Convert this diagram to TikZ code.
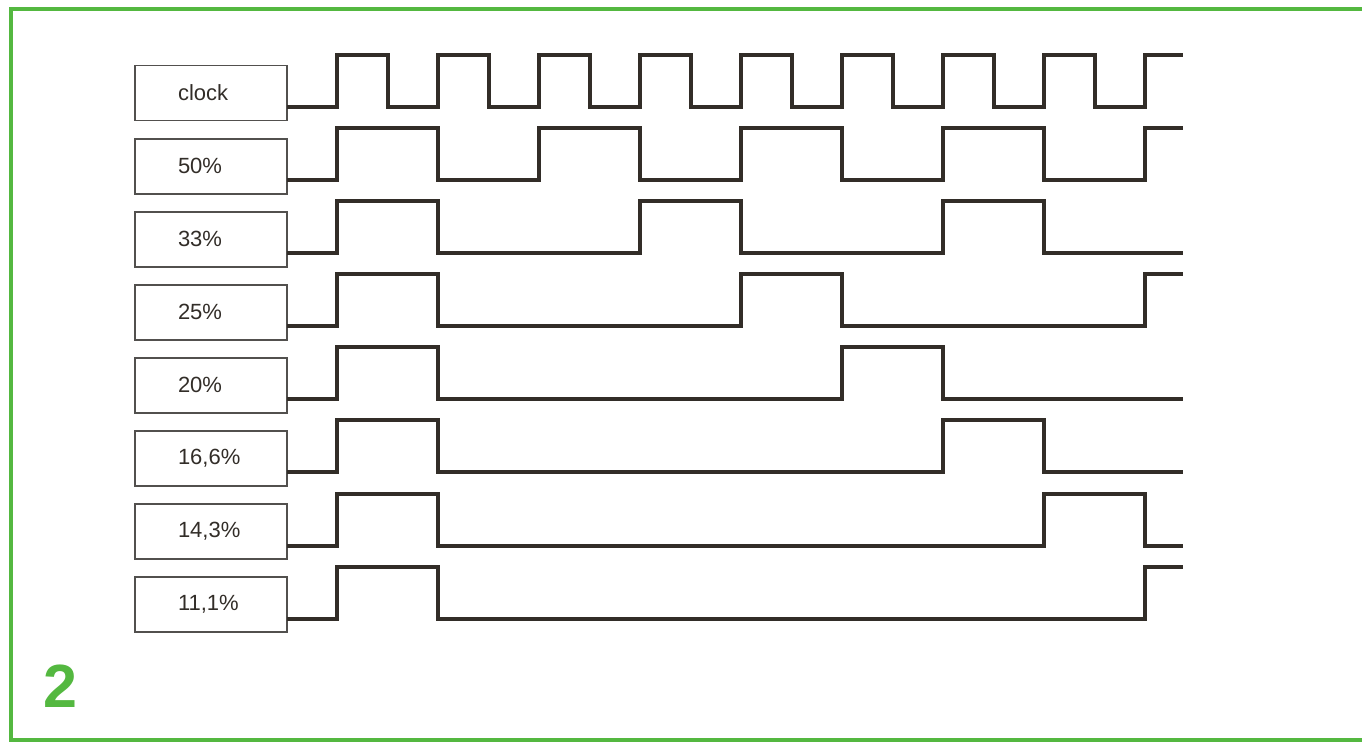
\documentclass[tikz,border=0pt]{standalone}
\usepackage{fontspec}
\setmainfont{Liberation Sans}
\usepackage{tikz}
\usetikzlibrary{positioning}
\definecolor{framegreen}{RGB}{84,184,64}
\definecolor{ink}{RGB}{50,45,40}
\definecolor{boxgray}{RGB}{82,80,78}
\tikzset{
    sigbox/.style={
           rectangle,
           draw=boxgray, line width=1.8pt,
           minimum width=152pt,
           minimum height=55pt,
           outer sep=0pt,
           inner xsep=43pt,
           text width=66pt,
           align=left,
           text=ink,
           font=\fontsize{22}{24}\selectfont,
           },
    wave/.style={
           draw=ink,
           line width=4.5pt,
           line join=miter,}
}

\begin{document}
\begin{tikzpicture}[x=1pt,y=-1pt]
\useasboundingbox (0,0) rectangle (1362,742);
% FRAME
\draw[framegreen, line width=4pt] (11,9) rectangle (1380,740);
% Position of the signal boxes
\node[sigbox] (CLOCK) at (211,93) {clock};
\node[sigbox, below = 18.1pt of CLOCK] (HALF) {50\%};
\node[sigbox, below = 18.1pt of HALF] (THIRD) {33\%};
\node[sigbox, below = 18.1pt of THIRD] (QUARTER) {25\%};
\node[sigbox, below = 18.1pt of QUARTER] (FIFTH) {20\%};
\node[sigbox, below = 18.1pt of FIFTH] (SIXTH) {16,6\%};
\node[sigbox, below = 18.1pt of SIXTH] (SEVENTH) {14,3\%};
\node[sigbox, below = 18.1pt of SEVENTH] (NINTH) {11,1\%};
% Figure number
\node[text=framegreen, font=\fontsize{61}{61}\selectfont\bfseries] (NUM) at (60,686) {2};
% Draw the waveforms
\draw[wave] (CLOCK.east |- 0,107) -| (337,55) -| (388,107) -| (438,55) -| (489,107)
  -| (539,55) -| (590,107) -| (640,55) -| (691,107) -| (741,55) -| (792,107)
  -| (842,55) -| (893,107) -| (943,55) -| (994,107) -| (1044,55) -| (1095,107)
  -| (1145,55) -- (1183,55);
\draw[wave] (HALF.east |- 0,180) -| (337,128) -| (438,180) -| (539,128) -| (640,180)
  -| (741,128) -| (842,180) -| (943,128) -| (1044,180) -| (1145,128) -- (1183,128);
\draw[wave] (THIRD.east |- 0,253) -| (337,201) -| (438,253) -| (640,201) -| (741,253)
  -| (943,201) -| (1044,253) -- (1183,253);
\draw[wave] (QUARTER.east |- 0,326) -| (337,274) -| (438,326) -| (741,274) -| (842,326)
  -| (1145,274) -- (1183,274);
\draw[wave] (FIFTH.east |- 0,399) -| (337,347) -| (438,399) -| (842,347) -| (943,399)
  -- (1183,399);
\draw[wave] (SIXTH.east |- 0,472) -| (337,420) -| (438,472) -| (943,420) -| (1044,472)
  -- (1183,472);
\draw[wave] (SEVENTH.east |- 0,546) -| (337,494) -| (438,546) -| (1044,494) -| (1145,546)
  -- (1183,546);
\draw[wave] (NINTH.east |- 0,619) -| (337,567) -| (438,619) -| (1145,567) -- (1183,567);
\end{tikzpicture}
\end{document}
